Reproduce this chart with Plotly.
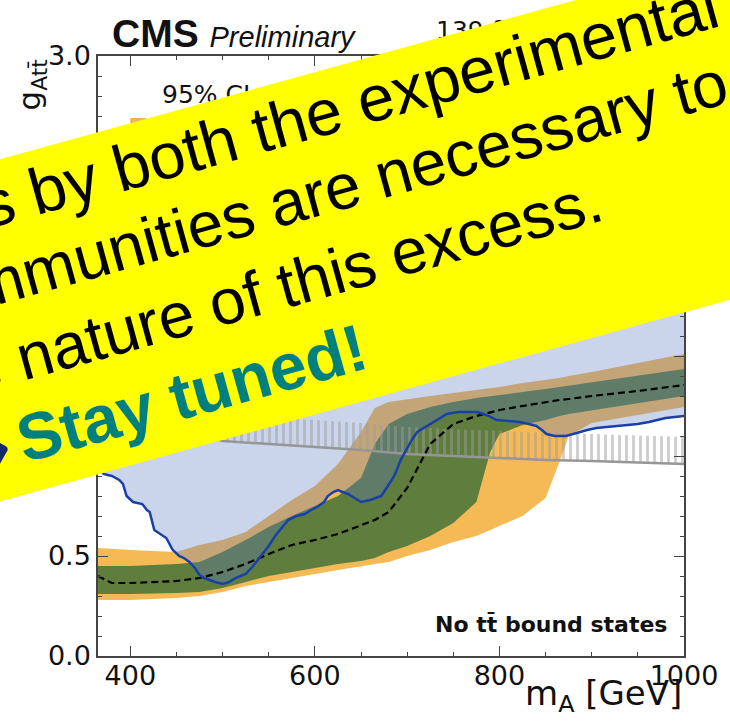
import math
import plotly.graph_objects as go

# ---------------- data ----------------
m_band = [365, 380, 400, 450, 475, 500, 525, 550, 575, 600, 625, 650, 665, 680,
          700, 725, 750, 775, 790, 800, 825, 850, 865, 875, 900, 950, 1000]
exp_2lo = [0.28, 0.28, 0.28, 0.29, 0.30, 0.32, 0.35, 0.37, 0.39, 0.41, 0.43, 0.45, 0.46, 0.47,
           0.50, 0.53, 0.57, 0.60, 0.63, 0.65, 0.70, 0.79, 0.97, 1.10, 1.165, 1.205, 1.245]
exp_1lo = [0.31, 0.31, 0.31, 0.315, 0.32, 0.34, 0.37, 0.40, 0.42, 0.44, 0.46, 0.475, 0.49, 0.52,
           0.55, 0.60, 0.665, 0.77, 1.02, 1.11, 1.155, 1.18, 1.20, 1.21, 1.23, 1.265, 1.30]
exp_med = [0.40, 0.365, 0.365, 0.375, 0.39, 0.42, 0.46, 0.51, 0.555, 0.58, 0.61, 0.655, 0.68, 0.72,
           0.84, 1.06, 1.16, 1.20, 1.22, 1.23, 1.25, 1.27, 1.28, 1.285, 1.30, 1.325, 1.355]
exp_1hi = [0.45, 0.45, 0.45, 0.46, 0.47, 0.52, 0.58, 0.645, 0.70, 0.75, 0.80, 0.89, 1.06, 1.16,
           1.21, 1.245, 1.27, 1.29, 1.30, 1.305, 1.32, 1.335, 1.345, 1.35, 1.365, 1.40, 1.435]
exp_2hi = [0.54, 0.535, 0.53, 0.52, 0.555, 0.58, 0.62, 0.70, 0.78, 0.85, 0.96, 1.12, 1.24, 1.27,
           1.285, 1.30, 1.315, 1.33, 1.34, 1.345, 1.365, 1.38, 1.39, 1.40, 1.42, 1.465, 1.51]

m_obs = [365, 371, 380, 388, 392, 396, 403, 413, 418, 421, 426, 433, 439, 446, 453, 458, 464,
         470, 475, 480, 485, 492, 500, 507, 514, 520, 525, 533, 543, 550, 557, 564, 571, 580,
         589, 596, 604, 610, 614, 620, 625, 630, 636, 643, 650, 660, 672, 679, 686, 693, 700,
         705, 711, 718, 725, 735, 743, 755, 765, 776, 786, 797, 810, 822, 832, 840, 846, 851,
         860, 872, 880, 887, 895, 905, 915, 925, 940, 950, 962, 972, 980, 990, 1000]
g_obs = [0.95, 0.91, 0.90, 0.88, 0.86, 0.80, 0.77, 0.76, 0.73, 0.72, 0.63, 0.61, 0.59, 0.53,
         0.50, 0.49, 0.47, 0.44, 0.405, 0.39, 0.38, 0.37, 0.36, 0.37, 0.39, 0.40, 0.41, 0.45,
         0.51, 0.55, 0.60, 0.64, 0.68, 0.70, 0.71, 0.73, 0.75, 0.77, 0.80, 0.82, 0.83, 0.82,
         0.81, 0.79, 0.77, 0.78, 0.80, 0.85, 0.90, 0.98, 1.04, 1.08, 1.12, 1.14, 1.16, 1.19,
         1.21, 1.22, 1.22, 1.22, 1.205, 1.18, 1.175, 1.17, 1.16, 1.15, 1.13, 1.11, 1.10, 1.10,
         1.11, 1.12, 1.13, 1.14, 1.145, 1.15, 1.155, 1.16, 1.17, 1.18, 1.19, 1.195, 1.20]

m_lim = [365, 380, 400, 425, 450, 475, 500, 550, 600, 650, 700, 750, 800, 850, 900, 950, 1000]
g_lim = [1.45, 1.35, 1.27, 1.20, 1.15, 1.11, 1.075, 1.06, 1.045, 1.03, 1.01, 1.0, 0.99,
         0.98, 0.975, 0.967, 0.96]

x_ticks = [400, 600, 800, 1000]

banner_lines = ["investigations by both the experimental",
                "communities are necessary to",
                "the nature of this excess."]
banner_last = "Stay tuned!"

# ---------------- geometry helpers ----------------
W, H = 730, 728
L, R, T, B = 98, 688, 56, 656
XMIN, XMAX, YMIN, YMAX = 365, 1000, 0.0, 3.0


def P(px, py):
    return (px - L) / (R - L), (B - py) / (B - T)


ARIAL = {' ': 278, 'a': 556, 'b': 556, 'c': 500, 'd': 556, 'e': 556, 'f': 278, 'g': 556,
         'h': 556, 'i': 222, 'l': 222, 'm': 833, 'n': 556, 'o': 556, 'p': 556, 'r': 333,
         's': 500, 't': 278, 'u': 556, 'v': 500, 'x': 500, 'y': 500, '.': 278, '!': 278}
ARIAL_B = {' ': 278, 'S': 667, 't': 333, 'a': 556, 'y': 556, 'u': 611, 'n': 611, 'e': 556,
           'd': 611, '!': 333}

SLOPE = 0.2765
ANG = math.degrees(math.atan(SLOPE))


def centre(px, py, pre, text, size, bold=False):
    tab = ARIAL_B if bold else ARIAL
    th = math.radians(ANG)
    ux, uy = math.cos(th), -math.sin(th)
    wpre = sum(tab.get(c, 556) for c in pre) * size / 1000
    w = sum(tab.get(c, 556) for c in text) * size / 1000
    sx, sy = px - ux * wpre, py - uy * wpre
    cx, cy = sx + ux * w / 2, sy + uy * w / 2
    nx, ny = -math.sin(th), -math.cos(th)
    cx += nx * 0.33 * size
    cy += ny * 0.33 * size
    return P(cx, cy)


fig = go.Figure()


def band(lo, hi, color):
    fig.add_trace(go.Scatter(x=m_band + m_band[::-1], y=hi + lo[::-1], mode="lines",
                             fill="toself", fillcolor=color, line=dict(width=0),
                             hoverinfo="skip"))


band(exp_2lo, exp_2hi, "#f5b955")
band(exp_1lo, exp_1hi, "#5f7d3c")

# observed excluded region
fig.add_trace(go.Scatter(x=m_obs + [XMAX, XMIN], y=g_obs + [2.5, 2.5], mode="lines",
                         fill="toself", fillcolor="rgba(95,125,190,0.33)",
                         line=dict(width=0), hoverinfo="skip"))

# hatched limit
hatch_h = 0.135
fig.add_trace(go.Scatter(x=m_lim + m_lim[::-1],
                         y=[g + hatch_h for g in g_lim] + g_lim[::-1],
                         mode="lines", fill="toself", fillcolor="rgba(0,0,0,0)",
                         fillpattern=dict(shape="|", size=7, solidity=0.4,
                                          fgcolor="#9c9c9c", bgcolor="rgba(0,0,0,0)"),
                         line=dict(width=0), hoverinfo="skip"))
fig.add_trace(go.Scatter(x=m_lim, y=g_lim, mode="lines",
                         line=dict(color="#969696", width=2.5), hoverinfo="skip"))

fig.add_trace(go.Scatter(x=m_band, y=exp_med, mode="lines",
                         line=dict(color="black", width=2.2, dash="7px,4px"),
                         hoverinfo="skip"))
fig.add_trace(go.Scatter(x=m_obs, y=g_obs, mode="lines",
                         line=dict(color="#1a40a8", width=2.5), hoverinfo="skip"))

tickfont = dict(family="DejaVu Sans", size=27, color="#111")
axis_common = dict(showline=True, linecolor="#444", linewidth=1.5, mirror="allticks",
                   ticks="inside", ticklen=10, tickwidth=1.3, tickcolor="#444",
                   showgrid=False, zeroline=False, tickfont=tickfont)

fig.update_layout(
    width=W, height=H, margin=dict(l=L, r=W - R, t=T, b=H - B),
    paper_bgcolor="white", plot_bgcolor="white", showlegend=False,
    xaxis=dict(range=[XMIN, XMAX], tickmode="array", tickvals=x_ticks,
               minor=dict(dtick=50, tick0=0, ticks="inside", ticklen=4, tickcolor="#444"),
               ticklabelstandoff=-5, **axis_common),
    yaxis=dict(range=[YMIN, YMAX], dtick=0.5, tickformat=".1f",
               minor=dict(dtick=0.1, tick0=0, ticks="inside", ticklen=4, tickcolor="#444"),
               ticklabelstandoff=0, **axis_common),
)

# legend patch
fig.add_shape(type="rect", xref="x", yref="y", x0=400, x1=417, y0=2.6, y1=2.69,
              fillcolor="#f0b060", line=dict(width=0), layer="above")

ann = []
# texts under the banner (listed first so the banner covers them)
ann.append(dict(x=P(160, 95)[0], y=P(160, 95)[1], xref="paper", yref="paper",
                text="95% CL", showarrow=False, xanchor="left", yanchor="middle",
                font=dict(family="DejaVu Sans", size=25, color="#111")))
ann.append(dict(x=P(436, 28)[0], y=P(436, 28)[1], xref="paper", yref="paper",
                text="139 fb<sup>-1</sup> (13 TeV)", showarrow=False, xanchor="left",
                yanchor="middle", font=dict(family="DejaVu Sans", size=25, color="#111")))
# header
ann.append(dict(x=P(110, 57)[0], y=P(110, 57)[1], xref="paper", yref="paper",
                text="<b>CMS</b> <span style='font-size:29px'><i>Preliminary</i></span>",
                showarrow=False, xanchor="left", yanchor="bottom",
                font=dict(family="Liberation Sans", size=39, color="#111")))
# axis titles
ann.append(dict(x=P(31, 85)[0], y=P(31, 85)[1], xref="paper", yref="paper",
                text="g<sub>Att\u0304</sub>", showarrow=False, textangle=-90,
                xanchor="center", yanchor="middle",
                font=dict(family="DejaVu Sans", size=31, color="#111")))
ann.append(dict(x=1.0, y=P(0, 695)[1], xref="paper", yref="paper",
                text="m<sub>A</sub> [GeV]", showarrow=False, xanchor="right",
                yanchor="middle", font=dict(family="DejaVu Sans", size=34, color="#111")))
ann.append(dict(x=P(673, 624)[0], y=P(673, 624)[1], xref="paper", yref="paper",
                text="<b>No tt\u0304 bound states</b>", showarrow=False, xanchor="right",
                yanchor="middle", font=dict(family="DejaVu Sans", size=22, color="#111")))

# yellow banner: a rotated, blank annotation box
top0, bot0 = 160, 502          # banner edges where they meet x = 0 (pixels)
bx = 365
by = (top0 + bot0) / 2 - SLOPE * bx
bh = (bot0 - top0) * math.cos(math.radians(ANG))
bpx, bpy = P(bx, by)
ann.append(dict(x=bpx, y=bpy, xref="paper", yref="paper", text=" ", showarrow=False,
                width=1050, height=bh, bgcolor="#ffff00", borderpad=0, borderwidth=0,
                textangle=-ANG, xanchor="center", yanchor="middle",
                font=dict(size=10, color="#ffff00")))

specs = [((37, 214), "investigations ", 65), ((277, 227), "communities ", 64),
         ((25, 380), "the ", 64)]
for ((px, py), pre, fs), txt in zip(specs, banner_lines):
    cx, cy = centre(px, py, pre, txt, fs)
    ann.append(dict(x=cx, y=cy, xref="paper", yref="paper", text=txt, showarrow=False,
                    textangle=-ANG, xanchor="center", yanchor="middle",
                    font=dict(family="Liberation Sans", size=fs, color="black")))
FSB = 66
cx, cy = centre(25, 462, "", banner_last, FSB, bold=True)
ann.append(dict(x=cx, y=cy, xref="paper", yref="paper", text="<b>" + banner_last + "</b>",
                showarrow=False, textangle=-ANG, xanchor="center", yanchor="middle",
                font=dict(family="Liberation Sans", size=FSB, color="#007f7f")))
ax_, ay_ = P(-12, 452)
ann.append(dict(x=ax_, y=ay_, xref="paper", yref="paper", text="\u279c", showarrow=False,
                textangle=-ANG, xanchor="center", yanchor="middle",
                font=dict(family="DejaVu Sans", size=56, color="#14286e")))

fig.update_layout(annotations=ann)
fig.write_html("out.html")
